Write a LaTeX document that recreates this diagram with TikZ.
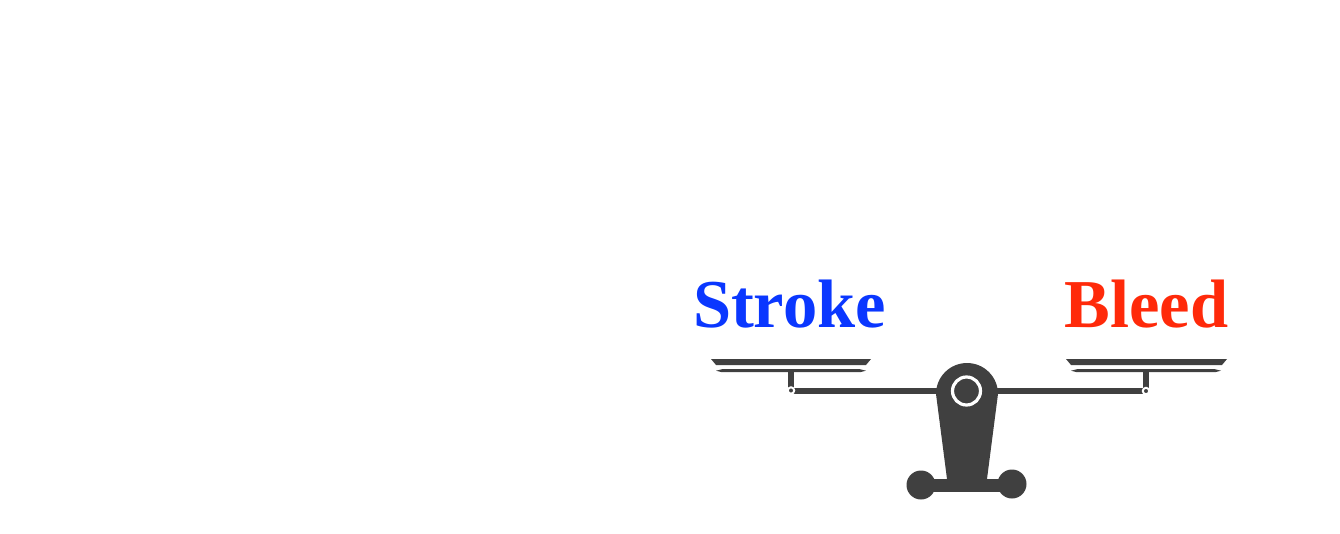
\documentclass[tikz,border=0pt]{standalone}
\usepackage{fontspec}
\setmainfont{Liberation Serif}
\definecolor{scaledark}{HTML}{404040}
\definecolor{strokeblue}{HTML}{0A37FF}
\definecolor{bleedred}{HTML}{FF2A0A}
\tikzset{
  scalepart/.style={fill=scaledark, draw=none},
  pivotring/.style={draw=white, fill=scaledark},
  sidelabel/.style={anchor=base, inner sep=0pt, font=\fontsize{39pt}{40pt}\selectfont\bfseries},
}
\begin{document}
\begin{tikzpicture}[x=0.02cm, y=-0.02cm]
    \useasboundingbox (0,0) rectangle (1340,534) ;
    % labels
    \node [sidelabel, text=strokeblue] (stroke) at (789.5,327.5) {Stroke} ;
    \node [sidelabel, text=bleedred] (bleed) at (1146.5,327.5) {Bleed} ;
    % beam
    \fill [scalepart] (791,388) rectangle (1146,394) ;
    % left pan
    \fill [scalepart] (711,359) -- (871,359) -- (866,365) -- (716,365) -- cycle ;
    \fill [scalepart] (716,370.7) -- (722,369.2) -- (860,369.2) -- (866,370.7)
        -- (860,372.2) -- (722,372.2) -- cycle ;
    \fill [scalepart] (788,371) rectangle ++(6,19) ;
    % right pan
    \fill [scalepart] (1066,359) -- (1227,359) -- (1222,365) -- (1071,365) -- cycle ;
    \fill [scalepart] (1071,370.7) -- (1077,369.2) -- (1215,369.2) -- (1221,370.7)
        -- (1215,372.2) -- (1077,372.2) -- cycle ;
    \fill [scalepart] (1142.5,371) rectangle ++(6.5,19) ;
    % hinges
    \draw [pivotring, line width=0.04cm] (791,390.5) circle (3.2) ;
    \draw [pivotring, line width=0.04cm] (1146,391) circle (3.2) ;
    % stand
    \fill [scalepart] (947,479) -- (936,394) arc [start angle=180, end angle=0, x radius=31, y radius=-31]
        -- (987,479) -- cycle ;
    \fill [scalepart] (921,479) rectangle (1012,492) ;
    \fill [scalepart] (921,485) circle (14.5) ;
    \fill [scalepart] (1012,484) circle (14.5) ;
    \draw [pivotring, line width=0.064cm] (966.5,391) circle (14) ;
\end{tikzpicture}
\end{document}
